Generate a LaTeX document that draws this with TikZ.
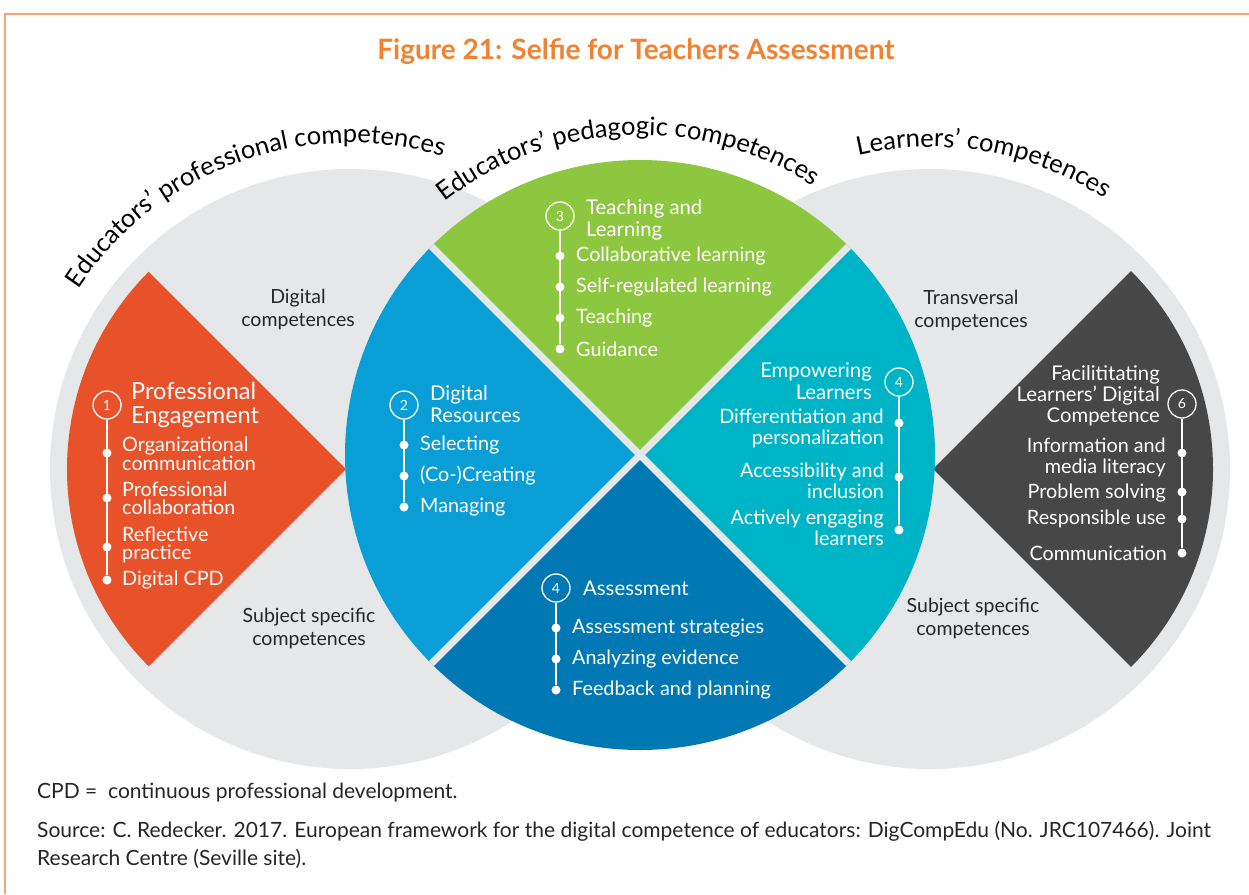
\documentclass[tikz,border=0pt]{standalone}
\usepackage{fontspec}
\setmainfont{Lato}
\usetikzlibrary{decorations.text}
\definecolor{frameor}{HTML}{F5A66C}
\definecolor{titleor}{HTML}{F08230}
\definecolor{engor}{HTML}{E8522B}
\definecolor{resblue}{HTML}{0A9ED6}
\definecolor{teachgreen}{HTML}{8DC63F}
\definecolor{learnteal}{HTML}{00B4C8}
\definecolor{assblue}{HTML}{0078B4}
\definecolor{facgrey}{HTML}{474747}
\definecolor{zonegrey}{HTML}{E6E7E8}
\definecolor{inkgrey}{HTML}{262626}
\newcommand{\arcfont}{\fontsize{25.5}{28}\selectfont}

\begin{document}
\begin{tikzpicture}[x=1pt,y=1pt,
    numcirc/.style={circle,draw=white,line width=1.3pt,minimum size=28pt,inner sep=0pt,
      text=white,font=\fontsize{14}{14}\selectfont},
    bul/.style={circle,fill=white,minimum size=9pt,inner sep=0pt},
    entry/.style={text=white,inner sep=0pt,font=\fontsize{19.8}{21}\selectfont},
    head/.style={text=white,inner sep=0pt,font=\fontsize{20.3}{22}\selectfont},
    zonetxt/.style={align=center,inner sep=0pt,text=inkgrey,font=\fontsize{19.5}{23}\selectfont},
    foot/.style={anchor=west,align=left,inner sep=0pt,text=inkgrey,font=\fontsize{21}{28}\selectfont},
    arctxt/.style={decorate,decoration={text along path,text align=center,text={|\arcfont|#1}}},
    stem/.style={white,line width=1.3pt}]
  \fill[white] (0,0) rectangle (1249,-894);
  \useasboundingbox (0,0) rectangle (1249,-894);
  \draw[frameor,line width=1.5pt] (5,-894) -- (5,-14) -- (1249,-14);

  \node (title) at (636,-52) [text=titleor,font=\fontsize{28}{32}\selectfont\bfseries]
    {Figure 21: Selfie for Teachers Assessment};

  % the two outer zones
  \coordinate (prof) at (350,-469);
  \coordinate (lrn)  at (930,-469);
  \coordinate (hub)  at (640,-455);
  \fill[zonegrey] (prof) circle[radius=300pt];
  \fill[zonegrey] (lrn) circle[radius=300pt];
  \fill[engor] (346,-469) -- ++(135:279pt) arc[start angle=135,end angle=225,radius=279pt] -- cycle;
  \fill[facgrey] (933,-469) -- ++(-45:280pt) arc[start angle=-45,end angle=45,radius=280pt] -- cycle;

  % pedagogic wheel
  \fill[teachgreen] (hub) -- ++(45:295pt) arc[start angle=45,end angle=135,radius=295pt] -- cycle;
  \fill[resblue] (hub) -- ++(135:295pt) arc[start angle=135,end angle=225,radius=295pt] -- cycle;
  \fill[assblue] (hub) -- ++(225:295pt) arc[start angle=225,end angle=315,radius=295pt] -- cycle;
  \fill[learnteal] (hub) -- ++(-45:295pt) arc[start angle=-45,end angle=45,radius=295pt] -- cycle;
  \draw[zonegrey,line width=7pt] (hub) -- ++(45:295pt) (hub) -- ++(135:295pt)
    (hub) -- ++(225:295pt) (hub) -- ++(-45:295pt);

  \path[arctxt={Educators’ professional competences}]
    (prof) ++(152:326pt) arc[start angle=152,end angle=68,radius=326pt];
  \path[arctxt={Educators’ pedagogic competences}]
    (hub) ++(134:320pt) arc[start angle=134,end angle=51,radius=320pt];
  \path[arctxt={Learners’ competences}]
    (lrn) ++(110:322pt) arc[start angle=110,end angle=50,radius=322pt];

  \node[zonetxt] (digcomp)  at (298,-309) {Digital\\competences};
  \node[zonetxt] (subjl)    at (309,-628) {Subject specific\\competences};
  \node[zonetxt] (transv)   at (971,-310) {Transversal\\competences};
  \node[zonetxt] (subjr)    at (973,-618) {Subject specific\\competences};

  % 1 professional engagement
  \node[numcirc] (n1) at (107,-405) {1};
  \node[head,anchor=west,align=left,font=\fontsize{23.5}{24}\selectfont] (h1) at (131,-405)
    {Professional\\Engagement};
  \node[bul] (b1a) at (107,-453) {};
  \node[bul] (b1b) at (107,-498) {};
  \node[bul] (b1c) at (107,-547) {};
  \node[bul] (b1d) at (107,-580) {};
  \node[entry,anchor=west,align=left,font=\fontsize{19.8}{18}\selectfont] (e1a) at (122,-454) {Organizational\\communication};
  \node[entry,anchor=west,align=left,font=\fontsize{19.8}{18}\selectfont] (e1b) at (122,-498) {Professional\\collaboration};
  \node[entry,anchor=west,align=left,font=\fontsize{19.8}{18}\selectfont] (e1c) at (122,-545) {Reflective\\practice};
  \node[entry,anchor=west] (e1d) at (122,-580) {Digital CPD};
  \path[stem] (n1) edge (b1d);

  % 2 digital resources
  \node[numcirc] (n2) at (404,-405) {2};
  \node[head,anchor=west,align=left] (h2) at (430,-404) {Digital\\Resources};
  \node[bul] (b2a) at (404,-445) {};
  \node[bul] (b2b) at (404,-476) {};
  \node[bul] (b2c) at (404,-507) {};
  \node[entry,anchor=west] (e2a) at (420,-445) {Selecting};
  \node[entry,anchor=west] (e2b) at (420,-476) {(Co-)Creating};
  \node[entry,anchor=west] (e2c) at (420,-507) {Managing};
  \path[stem] (n2) edge (b2c);

  % 3 teaching and learning
  \node[numcirc] (n3) at (560,-216) {3};
  \node[head,anchor=west,align=left] (h3) at (586,-220) {Teaching and\\Learning};
  \node[bul] (b3a) at (560,-256) {};
  \node[bul] (b3b) at (560,-287) {};
  \node[bul] (b3c) at (560,-318) {};
  \node[bul] (b3d) at (560,-349) {};
  \node[entry,anchor=west] (e3a) at (576,-256) {Collaborative learning};
  \node[entry,anchor=west] (e3b) at (576,-287) {Self-regulated learning};
  \node[entry,anchor=west] (e3c) at (576,-318) {Teaching};
  \node[entry,anchor=west] (e3d) at (576,-349) {Guidance};
  \path[stem] (n3) edge (b3d);

  % assessment
  \node[numcirc] (n4) at (556,-588) {4};
  \node[head,anchor=west] (h4) at (583,-588) {Assessment};
  \node[bul] (b4a) at (556,-628) {};
  \node[bul] (b4b) at (556,-659) {};
  \node[bul] (b4c) at (556,-690) {};
  \node[entry,anchor=west] (e4a) at (572,-628) {Assessment strategies};
  \node[entry,anchor=west] (e4b) at (572,-659) {Analyzing evidence};
  \node[entry,anchor=west] (e4c) at (572,-690) {Feedback and planning};
  \path[stem] (n4) edge (b4c);

  % empowering learners
  \node[numcirc] (n5) at (899,-382) {4};
  \node[head,anchor=east,align=right] (h5) at (872,-381) {Empowering\\Learners};
  \node[bul] (b5a) at (899,-423) {};
  \node[bul] (b5b) at (899,-477) {};
  \node[bul] (b5c) at (899,-530) {};
  \node[entry,anchor=east,align=right] (e5a) at (884,-428) {Differentiation and\\personalization};
  \node[entry,anchor=east,align=right] (e5b) at (884,-481) {Accessibility and\\inclusion};
  \node[entry,anchor=east,align=right] (e5c) at (884,-528) {Actively engaging\\learners};
  \path[stem] (n5) edge (b5c);

  % 6 learners' digital competence
  \node[numcirc] (n6) at (1182,-404) {6};
  \node[head,anchor=east,align=right,font=\fontsize{20.3}{21}\selectfont] (h6) at (1160,-396)
    {Facilititating\\Learners’ Digital\\Competence};
  \node[bul] (b6a) at (1182,-453) {};
  \node[bul] (b6b) at (1182,-492) {};
  \node[bul] (b6c) at (1182,-519) {};
  \node[bul] (b6d) at (1182,-553) {};
  \node[entry,anchor=east,align=right] (e6a) at (1166,-457) {Information and\\media literacy};
  \node[entry,anchor=east] (e6b) at (1166,-493) {Problem solving};
  \node[entry,anchor=east] (e6c) at (1166,-519) {Responsible use};
  \node[entry,anchor=east] (e6d) at (1167,-553) {Communication};
  \path[stem] (n6) edge (b6d);

  \node[foot] (cpd) at (37,-793) {CPD =\ \ continuous professional development.};
  \node[foot] (src) at (37,-845) {Source: C. Redecker. 2017. European framework for the digital competence of educators: DigCompEdu (No. JRC107466). Joint\\Research Centre (Seville site).};
\end{tikzpicture}
\end{document}
